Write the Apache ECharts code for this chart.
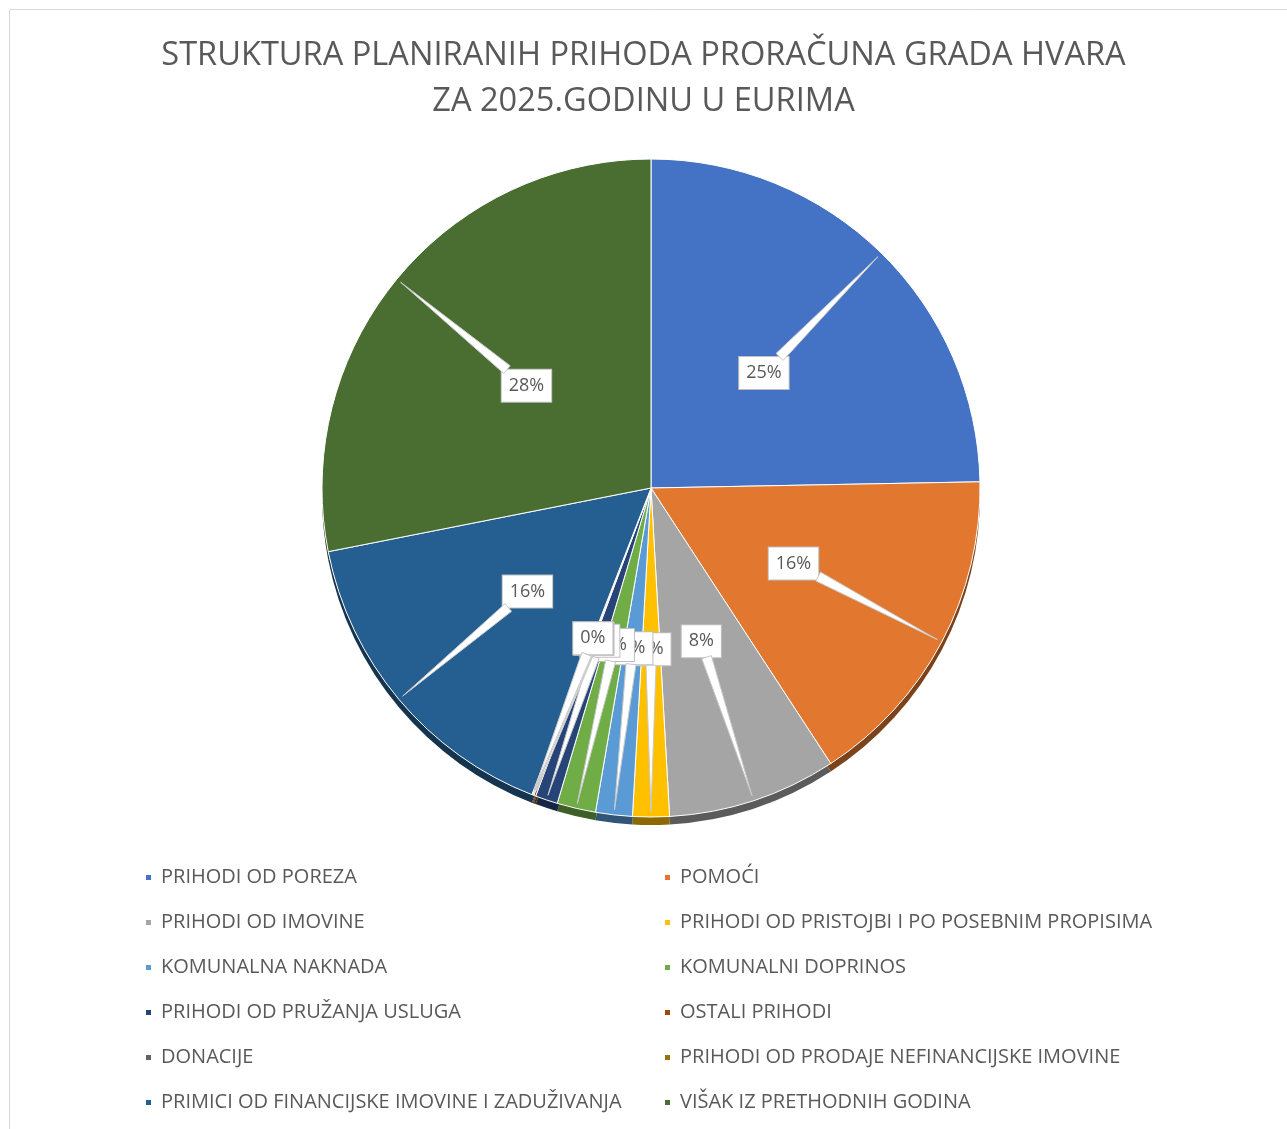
<!DOCTYPE html>
<html>
<head>
<meta charset="utf-8">
<script src="https://cdn.jsdelivr.net/npm/echarts@6/dist/echarts.min.js"></script>
<style>html,body{margin:0;padding:0;background:#fff;}#c{width:1287px;height:1129px;}</style>
</head>
<body>
<div id="c"></div>
<script>
const categories = [
  'PRIHODI OD POREZA',
  'POMOĆI',
  'PRIHODI OD IMOVINE',
  'PRIHODI OD PRISTOJBI I PO POSEBNIM PROPISIMA',
  'KOMUNALNA NAKNADA',
  'KOMUNALNI DOPRINOS',
  'PRIHODI OD PRUŽANJA USLUGA',
  'OSTALI PRIHODI',
  'DONACIJE',
  'PRIHODI OD PRODAJE NEFINANCIJSKE IMOVINE',
  'PRIMICI OD FINANCIJSKE IMOVINE I ZADUŽIVANJA',
  'VIŠAK IZ PRETHODNIH GODINA'
];
const values = [24.7, 16.1, 8.3, 1.8, 1.8, 1.9, 1.1, 0.1, 0.05, 0.05, 16.0, 28.1];
const colors = ['#4472C4','#E2782F','#A5A5A5','#FFC000','#5B9BD5','#70AD47','#264478','#9E480E','#636363','#997300','#255E91','#4A6E32'];

function darken(hex, f) {
  const n = parseInt(hex.slice(1), 16);
  const r = Math.round(((n >> 16) & 255) * f), g = Math.round(((n >> 8) & 255) * f), b = Math.round((n & 255) * f);
  return 'rgb(' + r + ',' + g + ',' + b + ')';
}

const CX = 651, CY = 488, R = 329;
const LABEL_R = 0.49, TIP_R = 0.985;
const font = '"Open Sans", "Noto Sans", sans-serif';
const LABEL_FS = 18, PAD = [8, 7, 6, 7];

const total = values.reduce((a, b) => a + b, 0);
const midAngles = [];
let acc = 0;
values.forEach(v => { midAngles.push((acc + v / 2) / total * 2 * Math.PI); acc += v; });
const labelTexts = values.map(v => Math.round(v / total * 100) + '%');

// measure label boxes to attach callout pointers to their edges
const mctx = document.createElement('canvas').getContext('2d');
mctx.font = LABEL_FS + 'px "Open Sans"';
function pointer(i) {
  const a = midAngles[i];
  const lx = CX + LABEL_R * R * Math.sin(a), ly = CY - LABEL_R * R * Math.cos(a);
  const tx = CX + TIP_R * R * Math.sin(a), ty = CY - TIP_R * R * Math.cos(a);
  const hw = (mctx.measureText(labelTexts[i]).width + PAD[1] + PAD[3]) / 2;
  const hh = (LABEL_FS * 1.0 + PAD[0] + PAD[2]) / 2;
  const dx = tx - lx, dy = ty - ly;
  const s = Math.min(Math.abs(dx) > 1e-6 ? hw / Math.abs(dx) : 1e9, Math.abs(dy) > 1e-6 ? hh / Math.abs(dy) : 1e9);
  const bx = lx + dx * s, by = ly + dy * s;
  const len = Math.hypot(dx, dy), nx = -dy / len, ny = dx / len, w = 5;
  return {
    type: 'polygon', z: 300, silent: true,
    shape: {points: [[bx + nx * w, by + ny * w], [tx, ty], [bx - nx * w, by - ny * w]]},
    style: {fill: '#ffffff', stroke: '#c8c8c8', lineWidth: 1}
  };
}

const chart = echarts.init(document.getElementById('c'), null, {renderer: 'canvas'});

chart.setOption({
  animation: false,
  color: colors,
  graphic: [{
    type: 'rect', shape: {x: 9.5, y: 9.5, width: 1300, height: 1140},
    style: {fill: 'none', stroke: '#d9d9d9', lineWidth: 1}, z: -10
  }].concat(values.map((v, i) => pointer(i))),
  title: {
    text: 'STRUKTURA PLANIRANIH PRIHODA PRORAČUNA GRADA HVARA\nZA 2025.GODINU U EURIMA',
    left: 'center', top: 28,
    textStyle: {fontFamily: font, fontSize: 32.6, fontWeight: 'normal', color: '#595959', lineHeight: 46}
  },
  legend: {
    data: categories,
    left: 139, top: 860, width: 1100,
    orient: 'horizontal',
    icon: 'rect', itemWidth: 7, itemHeight: 7,
    itemGap: 20,
    textStyle: {fontFamily: font, fontSize: 20, color: '#595959', width: 482, overflow: 'none', lineHeight: 25, padding: [0, 0, 0, 4]}
  },
  series: [{
    type: 'pie',
    name: 'main',
    center: [CX, CY], radius: R,
    startAngle: 90, clockwise: true,
    z: 100,
    avoidLabelOverlap: false,
    itemStyle: {borderColor: '#ffffff', borderWidth: 1},
    data: categories.map((c, i) => ({name: c, value: values[i]})),
    label: {
      show: true, position: 'outside',
      formatter: p => labelTexts[p.dataIndex],
      fontFamily: font, fontSize: LABEL_FS, color: '#595959',
      backgroundColor: '#ffffff', borderColor: '#bfbfbf', borderWidth: 1,
      padding: PAD
    },
    labelLine: {show: false},
    labelLayout: function (p) {
      const a = midAngles[p.dataIndex];
      return {x: CX + LABEL_R * R * Math.sin(a), y: CY - LABEL_R * R * Math.cos(a), align: 'center', verticalAlign: 'middle'};
    },
    emphasis: {disabled: true}
  }, {
    type: 'pie',
    name: 'rim',
    silent: true,
    center: [CX, CY + 8], radius: R,
    startAngle: 90, clockwise: true,
    z: 1,
    label: {show: false}, labelLine: {show: false},
    data: categories.map((c, i) => ({name: c, value: values[i], itemStyle: {color: darken(colors[i], 0.55)}})),
    emphasis: {disabled: true}
  }]
});
</script>
</body>
</html>
